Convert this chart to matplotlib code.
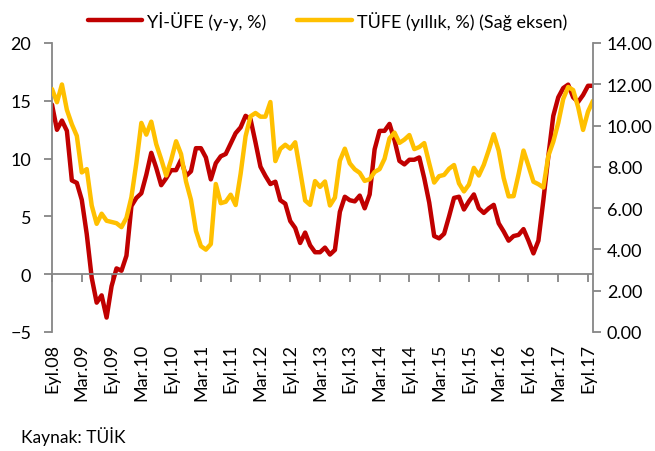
"""Yİ-ÜFE vs TÜFE, annual % change, Aug 2008 - Sep 2017 (monthly)."""
import matplotlib
matplotlib.use("Agg")
import matplotlib.pyplot as plt
import numpy as np
from matplotlib.ticker import FormatStrFormatter

plt.rcParams['font.family'] = ['Lato', 'DejaVu Sans']

# Yİ-ÜFE annual change, left axis
yi_ufe = [
    14.67, 12.49, 13.29, 12.40, 8.11,
    7.90, 6.43, 3.47, -0.30, -2.46, -1.83, -3.75, -1.04, 0.50, 0.30, 1.60, 5.90,
    6.60, 7.00, 8.60, 10.50, 9.20, 7.70, 8.30, 9.00, 9.00, 9.90, 8.50, 8.90,
    10.90, 10.90, 10.10, 8.20, 9.60, 10.20, 10.40, 11.30, 12.20, 12.70, 13.70, 13.40,
    11.40, 9.30, 8.50, 7.80, 8.00, 6.40, 6.10, 4.60, 4.00, 2.70, 3.60, 2.50,
    1.90, 1.90, 2.30, 1.70, 2.10, 5.40, 6.70, 6.40, 6.30, 6.80, 5.70, 6.90,
    10.80, 12.40, 12.40, 13.00, 11.60, 9.80, 9.50, 9.90, 9.90, 10.10, 8.30, 6.20,
    3.30, 3.10, 3.50, 5.00, 6.60, 6.70, 5.60, 6.30, 6.90, 5.70, 5.30, 5.70,
    6.00, 4.40, 3.70, 2.90, 3.30, 3.40, 3.90, 2.90, 1.80, 2.90, 6.40, 10.20,
    13.70, 15.30, 16.10, 16.40, 15.30, 14.90, 15.50, 16.30, 16.30,
]

# TÜFE annual change, right axis
tufe = [
    11.77, 11.13, 11.99, 10.76, 10.06,
    9.50, 7.73, 7.89, 6.13, 5.24, 5.73, 5.39, 5.33, 5.27, 5.08, 5.53, 6.53,
    8.19, 10.13, 9.56, 10.19, 9.10, 8.37, 7.58, 8.33, 9.24, 8.62, 7.29, 6.40,
    4.90, 4.16, 3.99, 4.26, 7.17, 6.24, 6.31, 6.65, 6.15, 7.66, 9.48, 10.45,
    10.61, 10.43, 10.43, 11.14, 8.28, 8.87, 9.07, 8.88, 9.19, 7.80, 6.37, 6.16,
    7.31, 7.03, 7.29, 6.13, 6.51, 8.30, 8.88, 8.17, 7.88, 7.71, 7.32, 7.40,
    7.75, 7.89, 8.39, 9.38, 9.66, 9.16, 9.32, 9.54, 8.86, 8.96, 9.15, 8.17,
    7.24, 7.55, 7.61, 7.91, 8.09, 7.20, 6.81, 7.14, 7.95, 7.58, 8.10, 8.81,
    9.58, 8.78, 7.46, 6.57, 6.58, 7.64, 8.79, 8.05, 7.28, 7.16, 7.00, 8.53,
    9.22, 10.13, 11.29, 11.87, 11.72, 10.90, 9.79, 10.68, 11.20,
]

tick_labels = [
    "Eyl.08", "Mar.09", "Eyl.09", "Mar.10", "Eyl.10", "Mar.11", "Eyl.11",
    "Mar.12", "Eyl.12", "Mar.13", "Eyl.13", "Mar.14", "Eyl.14", "Mar.15",
    "Eyl.15", "Mar.16", "Eyl.16", "Mar.17", "Eyl.17",
]

RED = "#C00000"
GOLD = "#FFC000"
GRAY = "#868686"
FS = 13

x = np.arange(len(yi_ufe))
ticks = np.arange(len(tick_labels)) * 6

fig = plt.figure(figsize=(6.55, 4.52), dpi=100)
ax = fig.add_axes([52 / 655, 1 - 333 / 452, (593 - 52) / 655, (333 - 44) / 452])
ax2 = ax.twinx()

l1, = ax.plot(x, yi_ufe, color=RED, lw=3.2, solid_joinstyle="round",
              solid_capstyle="round", label="Yİ-ÜFE (y-y, %)")
l2, = ax2.plot(x, tufe, color=GOLD, lw=3.2, solid_joinstyle="round",
               solid_capstyle="round", label="TÜFE (yıllık, %) (Sağ eksen)")

ax.set_xlim(0, len(x) - 1)
ax.set_ylim(-5, 20)
ax.set_yticks(np.arange(-5, 21, 5))
ax2.set_ylim(0, 14)
ax2.set_yticks(np.arange(0, 15, 2))
ax2.yaxis.set_major_formatter(FormatStrFormatter("%.2f"))

for a in (ax, ax2):
    for s in a.spines.values():
        s.set_color(GRAY)
        s.set_linewidth(1.3)
    a.spines["top"].set_visible(False)
ax.spines["right"].set_visible(False)
ax2.spines["left"].set_visible(False)
ax2.spines["bottom"].set_visible(False)
ax.spines["bottom"].set_position(("data", 0))

ax.set_xticks(ticks)
ax.tick_params(axis="x", labelbottom=False, length=6, width=1.3, color=GRAY)
ax.tick_params(axis="y", labelsize=FS, length=6, width=1.3, color=GRAY, pad=9)
ax2.tick_params(axis="y", labelsize=FS, length=6, width=1.3, color=GRAY, pad=4)

sec = ax.secondary_xaxis("bottom")
sec.set_xticks(ticks)
sec.set_xticklabels(tick_labels, rotation=90, fontsize=FS)
sec.tick_params(length=0, pad=8)
sec.spines["bottom"].set_visible(False)

fig.legend(handles=[l1, l2], loc="upper center", bbox_to_anchor=(0.5, 1.01),
           ncol=2, frameon=False, fontsize=FS, handlelength=3.0,
           handletextpad=0.3, columnspacing=1.7)

fig.text(21 / 655, 1 - 437 / 452, "Kaynak: TÜİK", fontsize=12.5, va="center")

fig.savefig("out.png", dpi=100)
